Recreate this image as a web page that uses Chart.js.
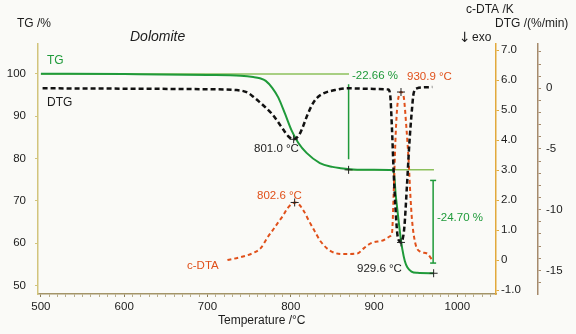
<!DOCTYPE html>
<html>
<head>
<meta charset="utf-8">
<script src="https://cdn.jsdelivr.net/npm/chart.js@4.4.1/dist/chart.umd.min.js"></script>
<style>
  html, body { margin: 0; padding: 0; background: #fafaf7; }
</style>
</head>
<body>
<canvas id="dolomite" width="576" height="334"></canvas>
<script>
// TG curve: mass (%) vs temperature (°C)
const tgTemp = [500, 600, 700, 740, 755, 763, 770, 778, 785, 793, 801, 809, 819, 835, 850, 860, 875, 900, 923, 924.5, 926, 928, 930, 932, 934, 937, 940, 945, 952, 972];
const tgMass = [100, 99.9, 99.7, 99.5, 99.2, 98.9, 98.3, 96.6, 94.4, 90.6, 86.6, 83.7, 81.3, 78.9, 78.0, 77.7, 77.4, 77.3, 77.2, 75.5, 71.5, 68.0, 64.5, 61.3, 58.6, 55.8, 54.3, 53.3, 53.0, 52.9];

// DTG curve: %/min
const dtgTemp = [502, 600, 700, 735, 748, 756, 762, 770, 778, 785, 791, 797, 803, 810, 815, 820, 827, 833, 840, 855, 868, 900, 917, 919.5, 921.5, 923.5, 925.5, 928, 930.5, 932.5, 934.5, 936.5, 939.5, 942.5, 945.5, 947.5, 951.5, 960, 970];
const dtgRate = [0, -0.03, -0.08, -0.15, -0.35, -0.75, -1.1, -1.6, -2.15, -2.8, -3.4, -3.95, -4.2, -3.85, -3.1, -2.2, -1.2, -0.7, -0.4, -0.12, 0, -0.05, -0.1, -0.6, -3.2, -6.7, -9.5, -12.0, -12.6, -12.7, -12.4, -11.4, -8.1, -4.5, -1.8, -0.45, 0.0, 0.08, 0.1];

// c-DTA curve: K
const dtaTemp = [724, 740, 756, 764, 772, 778, 784, 790, 796, 801, 805, 810, 816, 822, 828, 836, 848, 864, 880, 888, 896, 912, 919.5, 921.6, 923.6, 925.6, 927.6, 929.6, 932.4, 935.6, 938.8, 941.6, 943.6, 945.6, 949.6, 955.6, 963.6, 970];
const dtaSignal = [0, 0.1, 0.25, 0.4, 0.75, 0.98, 1.22, 1.45, 1.72, 1.87, 1.92, 1.85, 1.62, 1.3, 1.0, 0.62, 0.3, 0.2, 0.22, 0.4, 0.56, 0.67, 0.8, 0.9, 2.2, 3.9, 5.0, 5.45, 5.6, 5.45, 4.45, 3.3, 2.2, 1.35, 0.56, 0.28, 0.22, 0.0];

// evaluation marks (peaks, step ends)
const tgMarks = [{x: 869.5, y: 77.3}, {x: 971.6, y: 52.9}];
const dtgMarks = [{x: 803.5, y: -4.2}, {x: 932.4, y: -12.7}];
const dtaMarks = [{x: 804.7, y: 1.92}, {x: 932.4, y: 5.6}];

// mass-loss step lines
const stepLevelUpper = [{x: 500, y: 99.9}, {x: 870, y: 99.9}];
const stepLevelLower = [{x: 867, y: 77.3}, {x: 972, y: 77.3}];
const stepBar1 = [{x: 869.5, y: 97.5}, {x: 869.5, y: 79.8}];
const stepBar2 = [{x: 971, y: 74.8}, {x: 971, y: 55.3}];

// axis ticks
const tempTicks = [500, 600, 700, 800, 900, 1000];
const tgTicks = [50, 60, 70, 80, 90, 100];
const dtaTicks = [-1, 0, 1, 2, 3, 4, 5, 6, 7];
const dtgTicks = [-16, -15, -14, -13, -12, -11, -10, -9, -8, -7, -6, -5, -4, -3, -2, -1, 0, 1, 2, 3];

const GREEN = "#1f9a3a";
const LIGHT_GREEN = "#8cc05c";
const ORANGE = "#e0501a";
const TXT = "#1c1c1c";
const FONT = "'Liberation Sans', Arial, sans-serif";

const pts = (xs, ys) => xs.map((x, i) => ({ x: x, y: ys[i] }));

// minor ticks every 10 °C along temperature axis
const tempMinor = [];
for (let t = 500; t <= 1040; t += 10) tempMinor.push(t);

const notes = [
    { text: "TG /%", x: 17, y: 24, color: TXT, font: "12px " + FONT },
    { text: "Dolomite", x: 130, y: 37, color: TXT, font: "italic 14px " + FONT },
    { text: "c-DTA /K", x: 466, y: 10, color: TXT, font: "12px " + FONT },
    { text: "DTG /(%/min)", x: 495, y: 24, color: TXT, font: "12px " + FONT },
    { text: "\u2193", x: 459, y: 38, color: TXT, font: "14px 'DejaVu Sans', sans-serif" },
    { text: "exo", x: 472, y: 38, color: TXT, font: "12px " + FONT },
    { text: "Temperature /\u00b0C", x: 218, y: 321, color: TXT, font: "12px " + FONT },
    { text: "TG", x: 47, y: 61, color: GREEN, font: "12px " + FONT },
    { text: "DTG", x: 47, y: 103, color: TXT, font: "12px " + FONT },
    { text: "-22.66 %", x: 352, y: 76, color: GREEN, font: "11.5px " + FONT },
    { text: "930.9 \u00b0C", x: 407, y: 77, color: ORANGE, font: "11.5px " + FONT },
    { text: "801.0 \u00b0C", x: 254, y: 149, color: TXT, font: "11.5px " + FONT },
    { text: "802.6 \u00b0C", x: 257, y: 196, color: ORANGE, font: "11.5px " + FONT },
    { text: "929.6 \u00b0C", x: 357, y: 269, color: TXT, font: "11.5px " + FONT },
    { text: "c-DTA", x: 187, y: 266, color: ORANGE, font: "11.5px " + FONT },
    { text: "-24.70 %", x: 437, y: 218, color: GREEN, font: "11.5px " + FONT }
];

const paperAndNotes = {
    id: "paperAndNotes",
    beforeDraw(chart) {
        const ctx = chart.ctx;
        ctx.save();
        ctx.fillStyle = "#fafaf7";
        ctx.fillRect(0, 0, chart.width, chart.height);
        ctx.restore();
    },
    afterDraw(chart) {
        const ctx = chart.ctx;
        ctx.save();
        ctx.textBaseline = "middle";
        ctx.textAlign = "left";
        notes.forEach(n => {
            ctx.font = n.font;
            ctx.fillStyle = n.color;
            ctx.fillText(n.text, n.x, n.y);
        });
        ctx.restore();
    }
};

const tickFont = { family: FONT, size: 11.5 };

new Chart(document.getElementById("dolomite"), {
    type: "line",
    data: {
        datasets: [
            { data: tgMarks, yAxisID: "yTG", showLine: false, pointStyle: "cross", pointRadius: 4, pointBorderColor: "#222", pointBorderWidth: 1, order: 0 },
            { data: dtgMarks, yAxisID: "yDTG", showLine: false, pointStyle: "cross", pointRadius: 4, pointBorderColor: "#222", pointBorderWidth: 1, order: 0 },
            { data: dtaMarks, yAxisID: "yDTA", showLine: false, pointStyle: "cross", pointRadius: 4, pointBorderColor: "#222", pointBorderWidth: 1, order: 0 },
            { data: pts(dtgTemp, dtgRate), yAxisID: "yDTG", borderColor: "#111", borderWidth: 2.5, borderDash: [5, 3], pointRadius: 0, cubicInterpolationMode: "monotone", order: 1 },
            { data: pts(dtaTemp, dtaSignal), yAxisID: "yDTA", borderColor: ORANGE, borderWidth: 2, borderDash: [4, 3], pointRadius: 0, cubicInterpolationMode: "monotone", order: 2 },
            { data: pts(tgTemp, tgMass), yAxisID: "yTG", borderColor: GREEN, borderWidth: 2, pointRadius: 0, cubicInterpolationMode: "monotone", order: 3 },
            { data: stepBar1, yAxisID: "yTG", borderColor: GREEN, borderWidth: 1.5, pointRadius: 0, order: 4 },
            { data: stepBar2, yAxisID: "yTG", borderColor: GREEN, borderWidth: 1.5, pointStyle: "line", pointRadius: 3, pointBorderColor: GREEN, pointBorderWidth: 1.5, order: 4 },
            { data: stepLevelUpper, yAxisID: "yTG", borderColor: LIGHT_GREEN, borderWidth: 1.5, pointRadius: 0, order: 5 },
            { data: stepLevelLower, yAxisID: "yTG", borderColor: LIGHT_GREEN, borderWidth: 1.5, pointRadius: 0, order: 5 }
        ]
    },
    options: {
        responsive: false,
        devicePixelRatio: 1,
        animation: false,
        layout: { padding: { top: 44, left: 0, right: 0, bottom: 0 } },
        plugins: { legend: { display: false }, tooltip: { enabled: false } },
        scales: {
            x: {
                type: "linear",
                position: "bottom",
                min: 496.5,
                max: 1046.5,
                afterBuildTicks: s => { s.ticks = tempMinor.map(v => ({ value: v })); },
                afterFit: s => { s.height = 40; },
                grid: { drawOnChartArea: false, tickLength: 3, tickColor: ctx => tempTicks.includes(ctx.tick && ctx.tick.value) ? "#8a7c55" : "#b8ad8a" },
                border: { color: "#a39468", width: 1.5 },
                ticks: { autoSkip: false, maxRotation: 0, padding: 3, color: TXT, font: tickFont,
                         callback: v => tempTicks.includes(v) ? String(v) : "" }
            },
            yTG: {
                position: "left",
                min: 48,
                max: 107,
                afterBuildTicks: s => { s.ticks = tgTicks.map(v => ({ value: v })); },
                afterFit: s => { s.width = 38; },
                grid: { drawOnChartArea: false, tickLength: 3, tickColor: "#d2c47c" },
                border: { color: "#d2c47c", width: 1.5 },
                ticks: { autoSkip: false, padding: 9, color: TXT, font: tickFont }
            },
            yDTA: {
                position: "right",
                weight: 0,
                min: -1.13,
                max: 7.2,
                afterBuildTicks: s => { s.ticks = dtaTicks.map(v => ({ value: v })); },
                afterFit: s => { s.width = 42; },
                grid: { drawOnChartArea: false, tickLength: 3, tickColor: "#e2a93c" },
                border: { color: "#e2a93c", width: 1.5 },
                ticks: { autoSkip: false, padding: 2, color: TXT, font: tickFont,
                         callback: v => v === 0 ? "0" : v.toFixed(1) }
            },
            yDTG: {
                position: "right",
                weight: 1,
                min: -16.95,
                max: 3.65,
                afterBuildTicks: s => { s.ticks = dtgTicks.map(v => ({ value: v })); },
                afterFit: s => { s.width = 38; },
                grid: { drawOnChartArea: false, tickLength: 3, tickColor: "#a58a6c" },
                border: { color: "#a58a6c", width: 1.5 },
                ticks: { autoSkip: false, padding: 5, color: TXT, font: tickFont,
                         callback: v => v % 5 === 0 ? String(v) : "" }
            }
        }
    },
    plugins: [paperAndNotes]
});
</script>
</body>
</html>
